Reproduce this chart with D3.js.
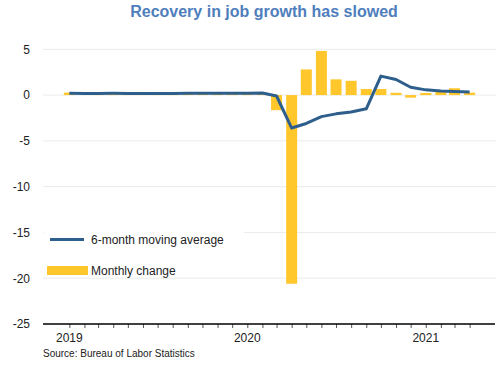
<!DOCTYPE html>
<html>
<head>
<meta charset="utf-8">
<script src="https://cdnjs.cloudflare.com/ajax/libs/d3/7.8.5/d3.min.js"></script>
<style>
	body { margin: 0; background: #fff; }
	text { font-family: "Liberation Sans", Arial, sans-serif; }
</style>
</head>
<body>
<svg class="chart"></svg>
<script>

// months shown, Jan 2019 to Apr 2021
var months = ["2019-01", "2019-02", "2019-03", "2019-04", "2019-05", "2019-06",
	"2019-07", "2019-08", "2019-09", "2019-10", "2019-11", "2019-12",
	"2020-01", "2020-02", "2020-03", "2020-04", "2020-05", "2020-06",
	"2020-07", "2020-08", "2020-09", "2020-10", "2020-11", "2020-12",
	"2021-01", "2021-02", "2021-03", "2021-04"];

// monthly change in payrolls (millions)
var monthly_change = [0.27, 0.00, 0.15, 0.21, 0.09, 0.18, 0.19, 0.21, 0.21, 0.19, 0.26, 0.18,
	0.21, 0.25, -1.65, -20.6, 2.8, 4.82, 1.72, 1.56, 0.66, 0.66, 0.25, -0.28,
	0.23, 0.45, 0.75, 0.27];

// 6-month moving average (millions)
var moving_average = [0.2, 0.18, 0.18, 0.19, 0.18, 0.17, 0.18, 0.18, 0.2, 0.2, 0.21, 0.21,
	0.21, 0.23, -0.1, -3.6, -3.1, -2.35, -2.05, -1.85, -1.5, 2.07, 1.7, 0.85,
	0.57, 0.44, 0.38, 0.33];

var y_ticks = [5, 0, -5, -10, -15, -20, -25];
var year_ticks = ["2019-01", "2020-01", "2021-01"];

var title = "Recovery in job growth has slowed";
var source = "Source: Bureau of Labor Statistics";
var legend_labels = ["6-month moving average", "Monthly change"];

var width = 500;
var height = 365;
var plot_left = 43, plot_right = 495, plot_top = 49.3, plot_bottom = 324;
var bar_color = "#FFC72C";
var line_color = "#2E5E8C";

var parse = d3.timeParse("%Y-%m");
var data = months.map(function(m, i) {
	return {date: parse(m), change: monthly_change[i], avg: moving_average[i]};
});

var svg = d3.select(".chart")
	.attr("width", width)
	.attr("height", height);

var x = d3.scaleTime()
	.domain([new Date(2018, 10, 8), new Date(2021, 4, 23)])
	.range([plot_left, plot_right]);
var y = d3.scaleLinear()
	.domain([-25, 5])
	.range([plot_bottom, plot_top]);

// title
svg.append("text")
	.attr("x", 264)
	.attr("y", 17)
	.attr("text-anchor", "middle")
	.style("font-size", "16px")
	.style("font-weight", "bold")
	.style("fill", "#4F7EBD")
	.text(title);

// gridlines
svg.append("g")
	.selectAll("line")
	.data(y_ticks.slice(0, -1))
	.enter().append("line")
		.attr("x1", plot_left)
		.attr("x2", plot_right + 1)
		.attr("y1", function(d) { return y(d); })
		.attr("y2", function(d) { return y(d); })
		.style("stroke", "#ebebeb")
		.style("stroke-width", 1);

// y labels
svg.append("g")
	.selectAll("text")
	.data(y_ticks)
	.enter().append("text")
		.attr("x", 30)
		.attr("y", function(d) { return y(d); })
		.attr("dy", "0.36em")
		.attr("text-anchor", "end")
		.style("font-size", "12px")
		.style("fill", "#222")
		.text(function(d) { return d; });

// bars
svg.append("g")
	.selectAll("rect")
	.data(data)
	.enter().append("rect")
		.attr("x", function(d) { return x(d.date) - 5.5; })
		.attr("y", function(d) { return y(Math.max(0, d.change)); })
		.attr("width", 11)
		.attr("height", function(d) { return Math.abs(y(d.change) - y(0)); })
		.style("fill", bar_color);

// moving average line
var line = d3.line()
	.x(function(d) { return x(d.date); })
	.y(function(d) { return y(d.avg); });

svg.append("path")
	.datum(data)
	.attr("d", line)
	.style("fill", "none")
	.style("stroke", line_color)
	.style("stroke-width", 3)
	.style("stroke-linejoin", "round");

// x axis with monthly ticks
var x_axis = d3.axisBottom(x)
	.ticks(d3.timeMonth.every(1))
	.tickSize(4)
	.tickFormat("");

var ax = svg.append("g")
	.attr("transform", "translate(0," + plot_bottom + ")")
	.call(x_axis);
ax.select(".domain").remove();
ax.selectAll(".tick")
	.filter(function(d) { return d < parse("2019-01") || d > parse("2021-04"); })
	.remove();
ax.selectAll(".tick line").style("stroke", "#555");
svg.append("line")
	.attr("x1", plot_left)
	.attr("x2", plot_right)
	.attr("y1", plot_bottom)
	.attr("y2", plot_bottom)
	.style("stroke", "#000")
	.style("stroke-width", 1.5);

svg.append("g")
	.selectAll("text")
	.data(year_ticks)
	.enter().append("text")
		.attr("x", function(d) { return x(parse(d)); })
		.attr("y", 342)
		.attr("text-anchor", "middle")
		.style("font-size", "12px")
		.style("fill", "#222")
		.text(function(d) { return d.substring(0, 4); });

// source note
svg.append("text")
	.attr("x", 43)
	.attr("y", 357)
	.style("font-size", "10px")
	.style("fill", "#222")
	.text(source);

// legend
var legend = svg.append("g");
legend.append("rect")
	.attr("x", 44)
	.attr("y", 227)
	.attr("width", 200)
	.attr("height", 49)
	.style("fill", "#fff");
legend.append("line")
	.attr("x1", 50)
	.attr("x2", 84)
	.attr("y1", 239.5)
	.attr("y2", 239.5)
	.style("stroke", line_color)
	.style("stroke-width", 3);
legend.append("rect")
	.attr("x", 47)
	.attr("y", 266)
	.attr("width", 41)
	.attr("height", 9)
	.style("fill", bar_color);
legend.selectAll("text")
	.data(legend_labels)
	.enter().append("text")
		.attr("x", 91)
		.attr("y", function(d, i) { return i == 0 ? 244 : 274.5; })
		.style("font-size", "12px")
		.style("fill", "#222")
		.text(function(d) { return d; });

</script>
</body>
</html>
